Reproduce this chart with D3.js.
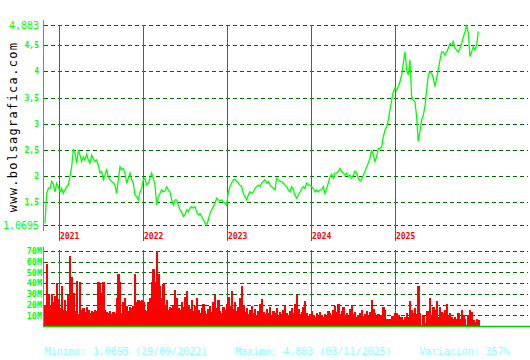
<!DOCTYPE html>
<html>
<head>
<meta charset="utf-8">
<script src="https://cdn.jsdelivr.net/npm/d3@7/dist/d3.min.js"></script>
<style>
  body { margin: 0; background: #fff; }
  svg { display: block; }
  text { font-family: "DejaVu Sans Mono", monospace; }
</style>
</head>
<body>
<div id="chart"></div>
<script>
// first and last session shown, samples are spread evenly between them
const firstDate = new Date(2020, 10, 3);
const lastDate = new Date(2025, 11, 29);

const price = [
    1.10, 1.67, 1.77, 1.77, 1.90, 1.85, 1.70, 1.86, 1.80, 1.70,
    1.77, 1.67, 1.74, 1.80, 1.83, 1.99, 2.18, 2.50, 2.45, 2.25,
    2.50, 2.40, 2.28, 2.37, 2.31, 2.42, 2.31, 2.25, 2.40, 2.34,
    2.28, 2.31, 2.21, 2.06, 2.09, 1.93, 2.02, 2.12, 1.99, 1.93,
    1.90, 1.87, 1.83, 1.67, 1.93, 2.18, 2.12, 2.15, 2.06, 1.87,
    1.96, 2.06, 1.93, 1.87, 1.64, 1.61, 1.55, 1.70, 1.77, 1.93,
    1.96, 1.83, 1.87, 1.96, 2.06, 1.96, 1.83, 1.45, 1.61, 1.67,
    1.74, 1.70, 1.72, 1.80, 1.74, 1.70, 1.55, 1.45, 1.55, 1.55,
    1.45, 1.36, 1.32, 1.23, 1.26, 1.36, 1.32, 1.39, 1.42, 1.39,
    1.42, 1.32, 1.26, 1.29, 1.23, 1.17, 1.11, 1.0695, 1.17, 1.29,
    1.36, 1.42, 1.48, 1.58, 1.55, 1.53, 1.55, 1.51, 1.48, 1.45,
    1.70, 1.80, 1.87, 1.93, 1.94, 1.90, 1.87, 1.83, 1.80, 1.67,
    1.61, 1.55, 1.64, 1.70, 1.67, 1.70, 1.77, 1.80, 1.83, 1.80,
    1.87, 1.90, 1.93, 1.87, 1.90, 1.83, 1.80, 1.77, 1.74, 1.96,
    1.93, 1.90, 1.90, 1.87, 1.83, 1.80, 1.74, 1.70, 1.80, 1.74,
    1.64, 1.58, 1.64, 1.70, 1.77, 1.80, 1.77, 1.87, 1.83, 1.83,
    1.80, 1.77, 1.70, 1.74, 1.70, 1.74, 1.74, 1.80, 1.67, 1.77,
    1.87, 1.99, 2.04, 1.96, 2.06, 2.06, 2.09, 2.15, 2.09, 2.06,
    2.02, 2.06, 1.99, 2.02, 1.96, 2.02, 2.10, 2.06, 1.96, 1.91,
    1.94, 2.02, 2.09, 2.18, 2.25, 2.34, 2.50, 2.40, 2.28, 2.37,
    2.53, 2.53, 2.56, 2.75, 2.88, 2.94, 3.07, 3.26, 3.45, 3.61,
    3.68, 3.64, 3.71, 3.80, 3.93, 4.15, 4.37, 4.03, 3.93, 4.22,
    3.52, 3.45, 3.42, 3.13, 2.66, 2.85, 3.07, 3.17, 3.33, 3.64,
    3.93, 3.99, 3.96, 3.87, 3.71, 3.87, 4.03, 4.22, 4.37, 4.37,
    4.31, 4.37, 4.44, 4.53, 4.50, 4.57, 4.44, 4.41, 4.37, 4.44,
    4.53, 4.65, 4.75, 4.883, 4.73, 4.28, 4.37, 4.47, 4.41, 4.50,
    4.76
];

// millions of shares
const volume = [
    20, 58, 30, 20, 30, 22, 28, 40, 25, 17,
    37, 15, 24, 14, 29, 65, 46, 31, 14, 42,
    11, 41, 15, 17, 13, 18, 15, 12, 14, 13,
    15, 14, 41, 39, 31, 41, 15, 13, 12, 14,
    11, 13, 12, 26, 49, 41, 12, 22, 26, 19,
    14, 18, 17, 19, 49, 22, 24, 23, 24, 22,
    15, 14, 22, 26, 41, 53, 41, 70, 49, 37,
    26, 39, 19, 24, 15, 18, 17, 19, 34, 26,
    17, 15, 22, 18, 27, 33, 20, 16, 24, 14,
    19, 26, 15, 12, 17, 21, 14, 11, 16, 19,
    13, 22, 29, 17, 24, 14, 12, 18, 15, 21,
    27, 19, 33, 16, 22, 14, 18, 26, 37, 20,
    13, 17, 11, 15, 19, 12, 16, 10, 14, 21,
    25, 13, 11, 16, 12, 18, 10, 14, 12, 17,
    9, 13, 11, 15, 19, 12, 10, 14, 17, 12,
    21, 29, 16, 11, 13, 18, 23, 12, 9, 11,
    14, 10, 8, 12, 9, 13, 10, 8, 11, 9,
    14, 12, 10, 15, 19, 13, 21, 11, 14, 18,
    10, 12, 9, 16, 20, 11, 13, 8, 10, 12,
    15, 9, 11, 14, 10, 13, 24, 16, 12, 9,
    11, 10, 10, 18, 15, 7, 7, 7, 9.5, 9.5,
    12, 12, 10, 8, 8, 5.6, 8.7, 12, 8.7, 23,
    15, 12, 17, 11.5, 37, 12, 1, 9.5, 2.5, 14,
    14, 26, 10, 18, 15, 23, 8.7, 18, 13, 12,
    15, 21, 10, 12, 8.7, 7, 8.7, 7, 12, 7,
    15, 10, 7, 1, 10, 15, 13, 5.6, 4, 7,
    5.6
];

const priceTicks = [1.0695, 1.5, 2, 2.5, 3, 3.5, 4, 4.5, 4.883];
const priceTickLabels = ["1,0695", "1,5", "2", "2,5", "3", "3,5", "4", "4,5", "4,883"];
const volumeTicks = [10, 20, 30, 40, 50, 60, 70];
const volumeTickLabels = ["10M", "20M", "30M", "40M", "50M", "60M", "70M"];
const footerTexts = ["Minimo: 1,0695 (29/09/2022)", "Maximo: 4,883 (03/11/2025)", "Variación: 357%"];
const siteName = "www.bolsagrafica.com";

const width = 530;
const height = 360;
const plot = { left: 43, right: 528, dataLeft: 45, dataRight: 478.3 };
const main = { top: 25, bottom: 225 };
const vol = { top: 251, bottom: 326 };

const span = (lastDate - firstDate) / (price.length - 1);
const dates = price.map((d, i) => new Date(+firstDate + i * span));

const svg = d3.select("#chart").append("svg")
    .attr("width", width)
    .attr("height", height);

const x = d3.scaleTime()
    .domain([firstDate, lastDate])
    .range([plot.dataLeft, plot.dataRight]);

const y = d3.scaleLinear()
    .domain([d3.min(price), d3.max(price)])
    .range([main.bottom, main.top]);

const yVol = d3.scaleLinear()
    .domain([0, 70])
    .range([vol.bottom, vol.top]);

const years = d3.timeYear.range(d3.timeYear.ceil(firstDate), lastDate);

// ---- price panel
svg.append("g")
    .selectAll("line")
    .data(priceTicks)
    .join("line")
    .attr("x1", plot.left + 1)
    .attr("x2", plot.right)
    .attr("y1", d => Math.round(y(d)) + 0.5)
    .attr("y2", d => Math.round(y(d)) + 0.5)
    .attr("stroke", "#006600")
    .attr("stroke-dasharray", "4,3");

svg.append("g")
    .selectAll("line")
    .data(years)
    .join("line")
    .attr("x1", d => Math.round(x(d)) + 0.5)
    .attr("x2", d => Math.round(x(d)) + 0.5)
    .attr("y1", main.top)
    .attr("y2", 241)
    .attr("stroke", "#009900");

svg.append("line")
    .attr("x1", plot.left + 0.5).attr("x2", plot.left + 0.5)
    .attr("y1", 20).attr("y2", 231)
    .attr("stroke", "#00dd00");

svg.append("g")
    .selectAll("text")
    .data(priceTicks)
    .join("text")
    .attr("x", 39)
    .attr("y", d => y(d))
    .attr("dy", (d, i) => (i === 0 || i === priceTicks.length - 1) ? "0.36em" : "0.38em")
    .attr("text-anchor", "end")
    .attr("fill", "#00ff00")
    .attr("font-size", (d, i) => (i === 0 || i === priceTicks.length - 1) ? "10px" : "8px")
    .attr("font-weight", (d, i) => (i === 0 || i === priceTicks.length - 1) ? "normal" : "bold")
    .text((d, i) => priceTickLabels[i]);

svg.append("g")
    .selectAll("text")
    .data(years)
    .join("text")
    .attr("x", d => Math.round(x(d)) + 1)
    .attr("y", 239)
    .attr("fill", "#ff0000")
    .attr("font-size", "8px")
    .attr("font-weight", "bold")
    .text(d => d3.timeFormat("%Y")(d));

const priceLine = d3.line()
    .x((d, i) => x(dates[i]))
    .y(d => y(d));

svg.append("path")
    .datum(price)
    .attr("fill", "none")
    .attr("stroke", "#00ff00")
    .attr("stroke-width", 1.3)
    .attr("stroke-linejoin", "miter")
    .attr("d", priceLine);

svg.append("text")
    .attr("transform", "translate(17, 127) rotate(-90)")
    .attr("text-anchor", "middle")
    .attr("fill", "#000")
    .attr("font-size", "12px")
    .attr("letter-spacing", "1.3px")
    .text(siteName);

// ---- volume panel
svg.append("g")
    .selectAll("line")
    .data(volumeTicks)
    .join("line")
    .attr("x1", plot.left + 1)
    .attr("x2", plot.right)
    .attr("y1", d => Math.round(yVol(d)) + 0.5)
    .attr("y2", d => Math.round(yVol(d)) + 0.5)
    .attr("stroke", "#006600")
    .attr("stroke-dasharray", "4,3");

svg.append("g")
    .selectAll("line")
    .data(years)
    .join("line")
    .attr("x1", d => Math.round(x(d)) + 0.5)
    .attr("x2", d => Math.round(x(d)) + 0.5)
    .attr("y1", 250)
    .attr("y2", vol.bottom)
    .attr("stroke", "#009900");

const barW = (plot.dataRight - plot.dataLeft) / (volume.length - 1);

svg.append("g")
    .selectAll("rect")
    .data(volume)
    .join("rect")
    .attr("x", (d, i) => x(dates[i]) - barW / 2)
    .attr("y", d => yVol(d))
    .attr("width", barW + 0.4)
    .attr("height", d => vol.bottom - yVol(d))
    .attr("fill", "#ff0000")
    .attr("shape-rendering", "crispEdges");

svg.append("line")
    .attr("x1", plot.left).attr("x2", width)
    .attr("y1", vol.bottom + 0.5).attr("y2", vol.bottom + 0.5)
    .attr("stroke", "#00cc00")
    .attr("stroke-width", 1.5);

svg.append("line")
    .attr("x1", plot.left + 0.5).attr("x2", plot.left + 0.5)
    .attr("y1", 247).attr("y2", vol.bottom)
    .attr("stroke", "#00dd00");

svg.append("g")
    .selectAll("text")
    .data(volumeTicks)
    .join("text")
    .attr("x", 42)
    .attr("y", d => yVol(d))
    .attr("dy", "0.38em")
    .attr("text-anchor", "end")
    .attr("fill", "#00ff00")
    .attr("font-size", "8.5px")
    .attr("font-weight", "bold")
    .text((d, i) => volumeTickLabels[i]);

// ---- footer
const footerX = [44.7, 235, 419.3];
svg.append("g")
    .selectAll("text")
    .data(footerTexts)
    .join("text")
    .attr("x", (d, i) => footerX[i])
    .attr("y", 355)
    .attr("fill", "#88ffff")
    .attr("font-size", "10px")
    .text(d => d);
</script>
</body>
</html>
